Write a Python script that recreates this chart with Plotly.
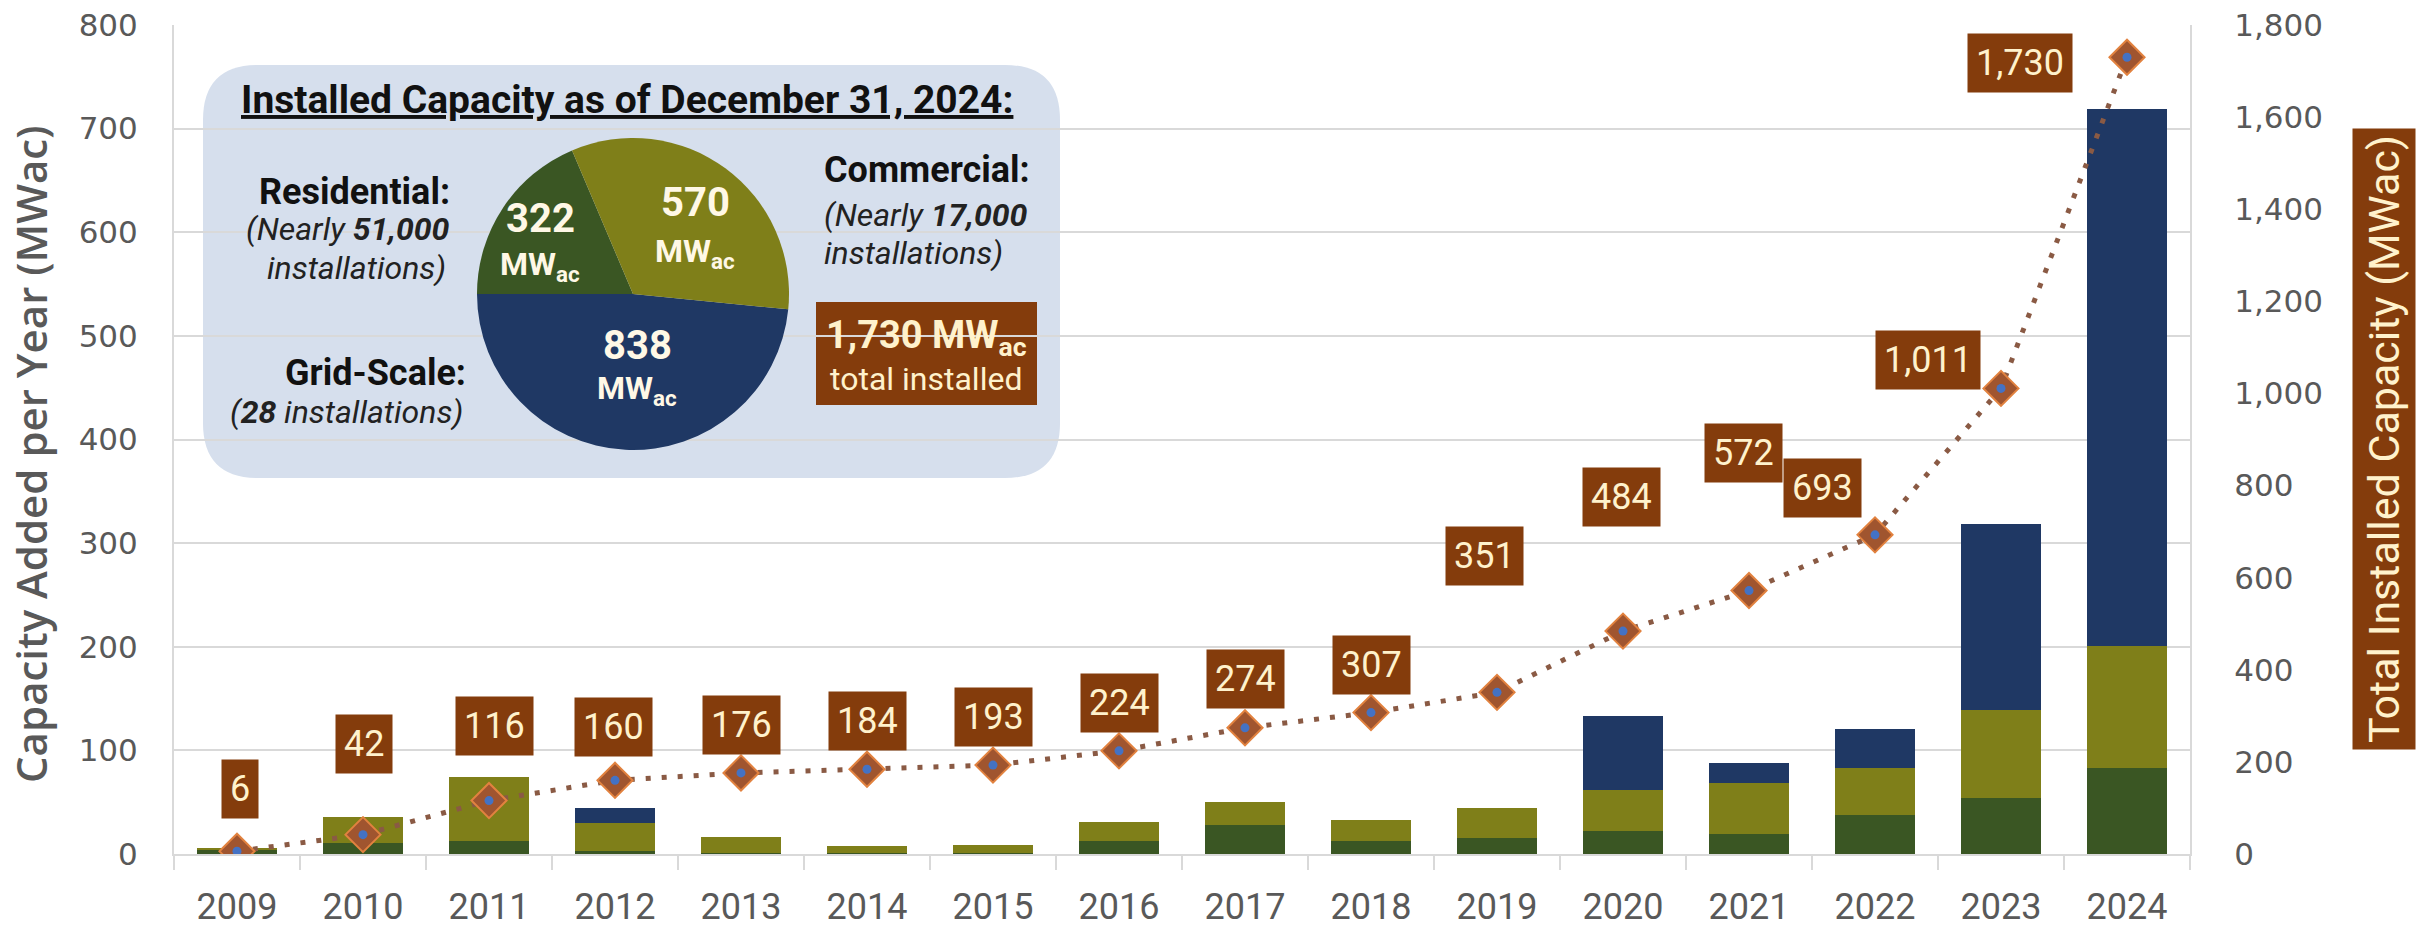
import plotly.graph_objects as go

# ---- data -------------------------------------------------------------
years = [2009, 2010, 2011, 2012, 2013, 2014, 2015, 2016,
         2017, 2018, 2019, 2020, 2021, 2022, 2023, 2024]
residential = [4, 11, 13, 3, 1, 1, 1, 13, 28, 13, 15, 22, 19, 38, 54, 83]
commercial = [2, 25, 61, 27, 15, 7, 8, 18, 22, 20, 29, 40, 50, 45, 85, 118]
grid_scale = [0, 0, 0, 14, 0, 0, 0, 0, 0, 0, 0, 71, 19, 38, 179, 518]
total_installed = [6, 42, 116, 160, 176, 184, 193, 224, 274, 307,
                   351, 484, 572, 693, 1011, 1730]

pie_labels = ["Residential", "Grid-Scale", "Commercial"]
pie_values = [322, 838, 570]
pie_total = 1730
install_counts = {"Residential": "51,000", "Commercial": "17,000", "Grid-Scale": "28"}

left_ticks = [0, 100, 200, 300, 400, 500, 600, 700, 800]
right_ticks = [0, 200, 400, 600, 800, 1000, 1200, 1400, 1600, 1800]

# ---- styling ----------------------------------------------------------
W, H = 2428, 929
L, R, T, B = 174, 2190, 25, 854          # plot area in pixels
C_RES = "#3A5623"
C_COM = "#7F7F19"
C_GRID = "#1F3864"
BROWN = "#843C0C"
CREAM = "#FFF2CC"
GRAY = "#595959"
GRIDLINE = "#D9D9D9"
NARROW = "Roboto, Liberation Sans, sans-serif"
WIDE = "DejaVu Sans, Verdana, sans-serif"


def px(x):
    return (x - L) / (R - L)


def py(y):
    return (B - y) / (B - T)


# pixel offsets of the value boxes relative to their points (dx, dy up)
label_offsets = [(3, 62), (1, 91), (5, 75), (-2, 53), (0, 48), (0, 48),
                 (0, 48), (0, 48), (0, 49), (0, 48), (-13, 136), (-2, 134),
                 (-6, 138), (-53, 47), (-73, 28), (-107, -6)]

fig = go.Figure()

for name, vals, col in [("Residential", residential, C_RES),
                        ("Commercial", commercial, C_COM),
                        ("Grid-Scale", grid_scale, C_GRID)]:
    fig.add_trace(go.Bar(x=years, y=vals, name=name, marker_color=col,
                         marker_line_width=0, width=0.635, yaxis="y"))

fig.add_trace(go.Scatter(
    x=years, y=total_installed, yaxis="y2", mode="lines+markers",
    line=dict(color="#8A5A44", width=5, dash="5px,11px"),
    marker=dict(symbol="diamond", size=27, color="#A0552F",
                line=dict(color="#E2823F", width=2)),
    name="Total installed"))
fig.add_trace(go.Scatter(
    x=years, y=total_installed, yaxis="y2", mode="markers",
    marker=dict(symbol="circle", size=9, color="#4472C4"),
    showlegend=False, hoverinfo="skip"))

# inset pie: residential wedge sits between 9 o'clock and the top
cx, cy, rad = 633, 294, 156
fig.add_trace(go.Pie(
    labels=pie_labels, values=pie_values, sort=False,
    direction="counterclockwise", rotation=-90,
    marker=dict(colors=[C_RES, C_GRID, C_COM], line=dict(width=0)),
    textinfo="none", hoverinfo="label+value", showlegend=False,
    domain=dict(x=[px(cx - rad), px(cx + rad)], y=[py(cy + rad), py(cy - rad)])))

annotations = []

# value boxes for the running total
for yr, v, (dx, dy) in zip(years, total_installed, label_offsets):
    annotations.append(dict(
        x=yr, y=v, xref="x", yref="y2", xshift=dx, yshift=dy,
        xanchor="center", yanchor="middle",
        text=f"{v:,}", showarrow=False, bgcolor=BROWN, borderpad=8,
        font=dict(family=NARROW, size=36, color=CREAM)))


def txt(x, y, text, size, anchor="center", color="#111111", **kw):
    annotations.append(dict(x=px(x), y=py(y), xref="paper", yref="paper",
                            text=text, showarrow=False, xanchor=anchor,
                            yanchor="middle",
                            font=dict(family=NARROW, size=size, color=color),
                            **kw))


# pie slice labels
pie_label_pos = {"Residential": (540, 219, 266),
                 "Commercial": (695, 202, 253),
                 "Grid-Scale": (637, 345, 390)}
for lab, v in zip(pie_labels, pie_values):
    x0, y_num, y_unit = pie_label_pos[lab]
    txt(x0, y_num, f"<b>{v}</b>", 40, color="#FFF8E6")
    txt(x0, y_unit, "<b>MW<sub>ac</sub></b>", 32, color="#FFF8E6")

# inset text
txt(627, 100, "<u><b>Installed Capacity as of December 31, 2024:</b></u>", 39)
txt(452, 192, "<b>Residential:</b>", 36, "right")
txt(452, 229, f"<i>(Nearly <b>{install_counts['Residential']}</b></i>", 32, "right", "#222222")
txt(448, 268, "<i>installations)</i>", 32, "right", "#222222")
txt(468, 373, "<b>Grid-Scale:</b>", 36, "right")
txt(465, 412, f"<i>(<b>{install_counts['Grid-Scale']}</b> installations)</i>", 32, "right", "#222222")
txt(822, 170, "<b>Commercial:</b>", 36, "left")
txt(822, 215, f"<i>(Nearly <b>{install_counts['Commercial']}</b></i>", 32, "left", "#222222")
txt(822, 253, "<i>installations)</i>", 32, "left", "#222222")
txt(926, 337, f"<b>{pie_total:,} MW<sub>ac</sub></b>", 38, "center", CREAM)
txt(926, 379, "total installed", 32, "center", CREAM)

# axis titles
annotations.append(dict(x=px(30), y=py(455), xref="paper", yref="paper",
                        xanchor="center", yanchor="middle",
                        text="Capacity Added per Year (MWac)", textangle=-90,
                        showarrow=False,
                        font=dict(family="Open Sans", size=42, color=GRAY,
                                  weight=600)))
annotations.append(dict(x=px(2384), y=py(439), xref="paper", yref="paper",
                        xanchor="center", yanchor="middle",
                        text="Total Installed Capacity (MWac)", textangle=-90,
                        showarrow=False, bgcolor=BROWN, borderpad=6,
                        font=dict(family=NARROW, size=43, color=CREAM)))

# rounded inset panel
bx0, bx1, by0, by1, r = 203, 1060, 65, 478, 55
path = (f"M {px(bx0 + r)},{py(by0)} L {px(bx1 - r)},{py(by0)} "
        f"Q {px(bx1)},{py(by0)} {px(bx1)},{py(by0 + r)} "
        f"L {px(bx1)},{py(by1 - r)} Q {px(bx1)},{py(by1)} {px(bx1 - r)},{py(by1)} "
        f"L {px(bx0 + r)},{py(by1)} Q {px(bx0)},{py(by1)} {px(bx0)},{py(by1 - r)} "
        f"L {px(bx0)},{py(by0 + r)} Q {px(bx0)},{py(by0)} {px(bx0 + r)},{py(by0)} Z")
shapes = [
    dict(type="path", path=path, xref="paper", yref="paper",
         fillcolor="#D6DFED", line=dict(width=0), layer="between"),
    dict(type="rect", xref="paper", yref="paper", x0=px(816), x1=px(1037),
         y0=py(405), y1=py(302), fillcolor=BROWN, line=dict(width=0),
         layer="between"),
]

boundaries = [y - 0.5 for y in years] + [years[-1] + 0.5]

fig.update_layout(
    width=W, height=H, autosize=False,
    margin=dict(l=L, r=W - R, t=T, b=H - B, autoexpand=False),
    paper_bgcolor="white", plot_bgcolor="white",
    barmode="stack", showlegend=False,
    annotations=annotations, shapes=shapes,
    xaxis=dict(range=[years[0] - 0.5, years[-1] + 0.5], tickvals=years,
               automargin=False, showgrid=False, zeroline=False,
               showline=True, linecolor=GRIDLINE, linewidth=2,
               ticks="outside", ticklen=20, tickcolor="rgba(0,0,0,0)",
               tickfont=dict(family=NARROW, size=36, color=GRAY),
               minor=dict(tickvals=boundaries, ticks="outside", ticklen=14,
                          tickcolor=GRIDLINE, tickwidth=2, showgrid=False)),
    yaxis=dict(range=[0, 800], tickvals=left_ticks, showgrid=True,
               automargin=False,
               gridcolor=GRIDLINE, gridwidth=2, zeroline=False,
               showline=True, linecolor=GRIDLINE, linewidth=2,
               ticks="outside", ticklen=28, tickcolor="rgba(0,0,0,0)",
               tickfont=dict(family=WIDE, size=31, color=GRAY)),
    yaxis2=dict(range=[0, 1800], tickvals=right_ticks, tickformat=",",
                automargin=False,
                overlaying="y", side="right", showgrid=False, zeroline=False,
                showline=True, linecolor=GRIDLINE, linewidth=2,
                ticks="outside", ticklen=36, tickcolor="rgba(0,0,0,0)",
                tickfont=dict(family=WIDE, size=31, color=GRAY)),
)

fig.write_html("out.html")
